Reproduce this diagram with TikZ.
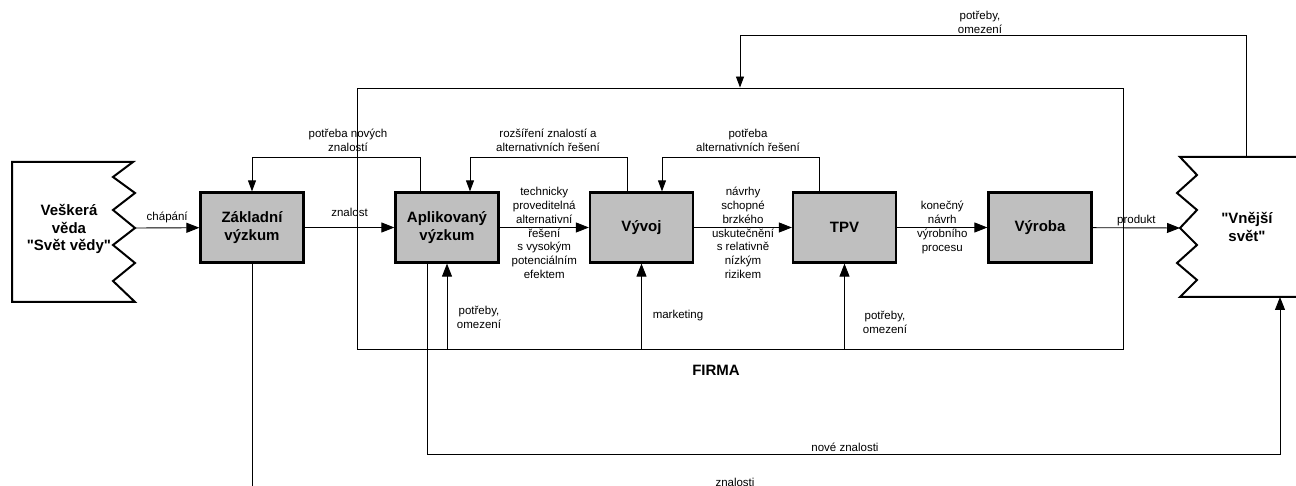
\documentclass[tikz,border=0pt]{standalone}
\usepackage{fontspec}
\newfontfamily\arial{Liberation Sans}
\usepackage{tikz}
\usetikzlibrary{arrows.meta,positioning,calc}

\begin{document}
\begin{tikzpicture}
  [x=1pt, y=-1pt,
  every node/.style={align=center, inner sep=0pt, font=\arial\fontsize{11.5}{13.8}\selectfont},
  blok/.style={draw, line width=2.2pt, fill=black!25, minimum width=103pt, minimum height=70pt,
    font=\arial\fontsize{15}{17.5}\selectfont\bfseries},
  velky/.style={font=\arial\fontsize{15}{17.5}\selectfont\bfseries},
 ]
  \tikzstyle{sipka}=[draw, -{Triangle[length=13pt,width=10pt]}, line width=0.9pt, black]
  \tikzstyle{malasipka}=[draw, -{Triangle[length=11pt,width=8pt]}, line width=0.9pt, black]
  \tikzstyle{cara}=[draw, line width=0.9pt, black]
  \tikzstyle{okraj}=[draw, line width=2pt, black, line join=miter]

\useasboundingbox (0,0) rectangle (1296,486);

\node[draw, line width=0.9pt, minimum width=766pt, minimum height=261pt] (firma) at (740,218.5) {};
\node[velky] (firmanazev) at (716,370) {FIRMA};

\node[blok] (zakl) at (252,227.5) {Základní\\výzkum};
\node[blok] (apl) at (447,227.5) {Aplikovaný\\výzkum};
\node[blok] (vyvoj) at (641.5,227.5) {Vývoj};
\node[blok] (tpv) at (844.5,227.5) {TPV};
\node[blok] (vyroba) at (1040,227.5) {Výroba};

\draw[okraj] (133,162) -- (12,162) -- (12,302) -- (135,302) -- (113,281) -- (135,263)
  -- (113,245) -- (135,228) -- (113,210) -- (135,193) -- (113,177) -- cycle;
\node[velky] (veda) at (69,229) {Veškerá\\věda\\"Svět vědy"};
\coordinate (vedaR) at (135,228);

\draw[okraj] (1296,157) -- (1180,157) -- (1197,175) -- (1177,193) -- (1197,210) -- (1180,228)
  -- (1197,245) -- (1177,263) -- (1197,280) -- (1180,297) -- (1296,297);
\node[velky] (svet) at (1247,227) {"Vnější\\svět"};
\coordinate (svetL) at (1180,228);
\coordinate (svetT) at (1246,157);
\coordinate (svetB) at (1280,297);
\coordinate (horni) at (740,35);
\coordinate (nzroh) at (1280,454);
\coordinate (dolni) at (252,486);

\draw[sipka] (vedaR) -- node[above=5pt] (lchap) {chápání} (zakl);
\draw[sipka] (zakl) -- node[above=10pt] (lznal) {znalost} (apl);
\draw[sipka] (apl) -- node[yshift=-5.5pt] (ltech) {technicky\\proveditelná\\alternativní\\řešení\\s vysokým\\potenciálním\\efektem} (vyvoj);
\draw[sipka] (vyvoj) -- node[yshift=-5.5pt] (lnavrh) {návrhy\\schopné\\brzkého\\uskutečnění\\s relativně\\nízkým\\rizikem} (tpv);
\draw[sipka] (tpv) -- node (lkon) {konečný\\návrh\\výrobního\\procesu} (vyroba);
\draw[sipka] (vyroba) -- node[above=2pt] (lprod) {produkt} (svetL);

\draw[malasipka] ([xshift=-27pt]apl.north) -- ++(0,-34) -| (zakl.north);
\node (lpnz) at (348,140) {potřeba nových\\znalostí};
\draw[malasipka] ([xshift=-14.5pt]vyvoj.north) -- ++(0,-34) -| ([xshift=23pt]apl.north);
\node (lrozs) at (548,140) {rozšíření znalostí a\\alternativních řešení};
\draw[malasipka] ([xshift=-25.5pt]tpv.north) -- ++(0,-34) -| ([xshift=20.5pt]vyvoj.north);
\node (lpar) at (748,140) {potřeba\\alternativních řešení};

\draw[sipka] (apl.south |- firma.south) -- (apl.south);
\node (lpo1) at (479,317) {potřeby,\\omezení};
\draw[sipka] (vyvoj.south |- firma.south) -- (vyvoj.south);
\node (lmark) at (678,316) {marketing};
\draw[sipka] (tpv.south |- firma.south) -- (tpv.south);
\node (lpo2) at (885,322) {potřeby,\\omezení};

\draw[malasipka] (svetT) |- (horni) -- (firma.north);
\node (lpo3) at (980,22) {potřeby,\\omezení};

\draw[sipka] ([xshift=-20pt]apl.south) |- (nzroh) -- (svetB);
\node (lnove) at (845,447) {nové znalosti};

\draw[cara] (zakl.south) -- (dolni);
\node (lzn) at (735,482) {znalosti};
\end{tikzpicture}
\end{document}
